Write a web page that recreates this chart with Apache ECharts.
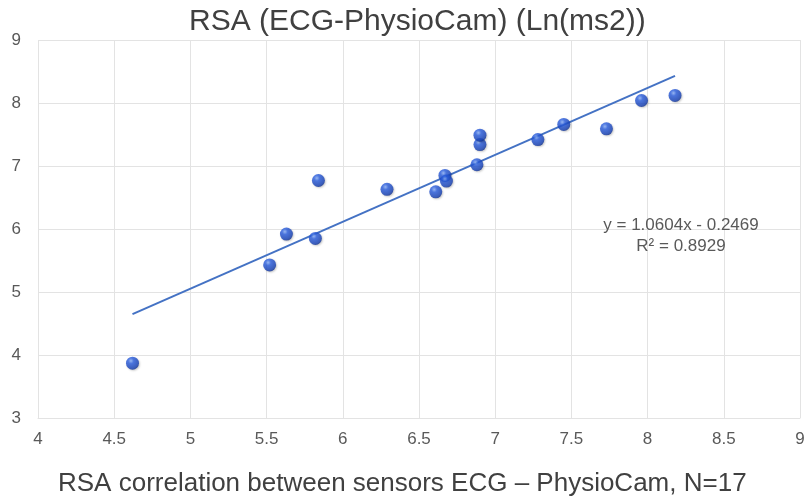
<!DOCTYPE html>
<html>
<head>
<meta charset="utf-8">
<script src="https://cdn.jsdelivr.net/npm/echarts@6/dist/echarts.min.js"></script>
<style>
  html, body { margin: 0; padding: 0; background: #fff; }
  #main { width: 811px; height: 502px; }
</style>
</head>
<body>
<div id="main"></div>
<script>
// RSA values, ECG (x) vs PhysioCam (y)
var ecgValues = [4.62, 5.52, 5.63, 5.82, 5.84, 6.29, 6.61, 6.67, 6.68, 6.88, 6.90, 6.90, 7.28, 7.45, 7.73, 7.96, 8.18];
var camValues = [3.87, 5.43, 5.92, 5.85, 6.77, 6.63, 6.59, 6.85, 6.76, 7.02, 7.34, 7.49, 7.42, 7.66, 7.59, 8.04, 8.12];
// trend line ends (as drawn)
var trendX = [4.62, 8.18];
var trendY = [4.65, 8.43];
var xTicks = { min: 4, max: 9, step: 0.5 };
var yTicks = { min: 3, max: 9, step: 1 };
var equationText = ['y = 1.0604x - 0.2469', 'R\u00b2 = 0.8929'];

var chart = echarts.init(document.getElementById('main'));

var points = [];
for (var i = 0; i < ecgValues.length; i++) {
    points.push([ecgValues[i], camValues[i]]);
}
var trend = [[trendX[0], trendY[0]], [trendX[1], trendY[1]]];

var ballColor = new echarts.graphic.RadialGradient(0.38, 0.32, 0.72, [
    { offset: 0, color: '#8ab0fa' },
    { offset: 0.3, color: '#2a5ee0' },
    { offset: 0.8, color: '#1742b8' },
    { offset: 1, color: '#0e2e8a' }
]);

var option = {
    backgroundColor: '#fff',
    animation: false,
    title: {
        text: 'RSA (ECG-PhysioCam) (Ln(ms2))',
        left: 184,
        top: 2,
        textStyle: {
            fontFamily: 'Liberation Sans',
            fontWeight: 'normal',
            fontSize: 30,
            color: '#404040'
        }
    },
    grid: {
        left: 38,
        right: 11,
        top: 40,
        bottom: 84
    },
    xAxis: {
        type: 'value',
        min: xTicks.min,
        max: xTicks.max,
        interval: xTicks.step,
        axisLine: { show: true, lineStyle: { color: '#e3e3e3', width: 1 } },
        axisTick: { show: false },
        splitLine: { show: true, lineStyle: { color: '#e3e3e3', width: 1 } },
        axisLabel: {
            color: '#595959',
            fontFamily: 'Liberation Sans',
            fontSize: 17,
            margin: 13
        }
    },
    yAxis: {
        type: 'value',
        min: yTicks.min,
        max: yTicks.max,
        interval: yTicks.step,
        axisLine: { show: false },
        axisTick: { show: false },
        splitLine: { show: true, lineStyle: { color: '#e3e3e3', width: 1 } },
        axisLabel: {
            color: '#595959',
            fontFamily: 'Liberation Sans',
            fontSize: 17,
            margin: 17
        }
    },
    graphic: [
        {
            type: 'text',
            left: 58,
            top: 471,
            style: {
                text: 'RSA correlation between sensors ECG \u2013 PhysioCam, N=17',
                font: '26px "Liberation Sans"',
                fill: '#404040'
            }
        },
        {
            type: 'text',
            x: 681,
            y: 236,
            z: 10,
            style: {
                text: equationText.join('\n'),
                font: '17px "Liberation Sans"',
                fill: '#595959',
                align: 'center',
                verticalAlign: 'middle',
                lineHeight: 21
            }
        }
    ],
    series: [
        {
            name: 'trend',
            type: 'line',
            data: trend,
            symbol: 'none',
            silent: true,
            lineStyle: { color: '#4472c4', width: 2 },
            z: 2
        },
        {
            name: 'RSA',
            type: 'scatter',
            data: points,
            symbolSize: 13,
            itemStyle: {
                color: ballColor,
                shadowColor: 'rgba(0,0,0,0.25)',
                shadowBlur: 2,
                shadowOffsetX: 1,
                shadowOffsetY: 1
            },
            z: 3
        }
    ]
};
chart.setOption(option);
</script>
</body>
</html>
